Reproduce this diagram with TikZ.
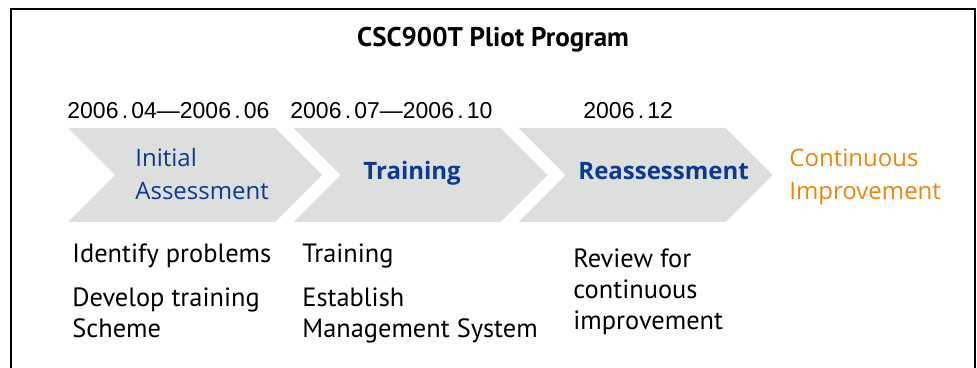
\documentclass[tikz,border=0pt]{standalone}
\usepackage{fontspec}
\setmainfont{PT Sans}
\newfontfamily\chevfont{Open Sans}
\newfontfamily\datefont{Liberation Sans}
\usepackage{xcolor}
\usetikzlibrary{shapes.symbols}
\definecolor{chevgray}{RGB}{221,223,223}
\definecolor{stepblue}{RGB}{14,58,142}
\definecolor{steporange}{RGB}{231,134,12}
\newcommand{\dd}{\kern1.6pt.\kern1.6pt}

\begin{document}
\begin{tikzpicture}[x=0.5pt,y=-0.5pt]
\tikzstyle{every node}+=[inner sep=0pt]
\tikzstyle{chevron}=[signal, signal from=west, signal to=east, fill=chevgray, minimum width=127pt, minimum height=47pt]
\tikzstyle{steplabel}=[anchor=base west, align=left, text=stepblue, font=\chevfont\fontsize{12}{16.5}\selectfont]
\tikzstyle{datelabel}=[anchor=base west, font=\datefont\fontsize{11.5}{13}\selectfont]
\tikzstyle{task}=[anchor=base west, align=left, font=\fontsize{13.2}{15.5}\selectfont]
\useasboundingbox (0,0) rectangle (977,368);
\draw [line width=1pt] (10.5,368) -- (10.5,9.5) -- (975,9.5) -- (975,368);
\node [anchor=base, font=\bfseries\fontsize{13.5}{15}\selectfont] (title) at (493,47) {CSC900T Pliot Program};
\node [datelabel] (d1) at (67,119) {2006\dd04—2006\dd06};
\node [datelabel] (d2) at (290,119) {2006\dd07—2006\dd10};
\node [datelabel] (d3) at (583,119) {2006\dd12};
\node [chevron] (assess) at (195,175) {};
\node [chevron] (train) at (420.5,175) {};
\node [chevron] (reassess) at (645.5,175) {};
\node [steplabel] (assesstxt) at (135,200) {Initial\\Assessment};
\node [steplabel, font=\chevfont\bfseries\fontsize{12}{16.5}\selectfont] (traintxt) at (363,180) {Training};
\node [steplabel, font=\chevfont\bfseries\fontsize{12}{16.5}\selectfont] (reassesstxt) at (578,180) {Reassessment};
\node [steplabel, text=steporange] (improvetxt) at (789,200) {Continuous\\Improvement};
\node [task] (t1) at (72,263) {Identify problems};
\node [task] (t2) at (72,337) {Develop training\\Scheme};
\node [task] (t3) at (302,263) {Training};
\node [task] (t4) at (302,337) {Establish\\Management System};
\node [task] (t5) at (573,329) {Review for\\continuous\\improvement};
\end{tikzpicture}
\end{document}
